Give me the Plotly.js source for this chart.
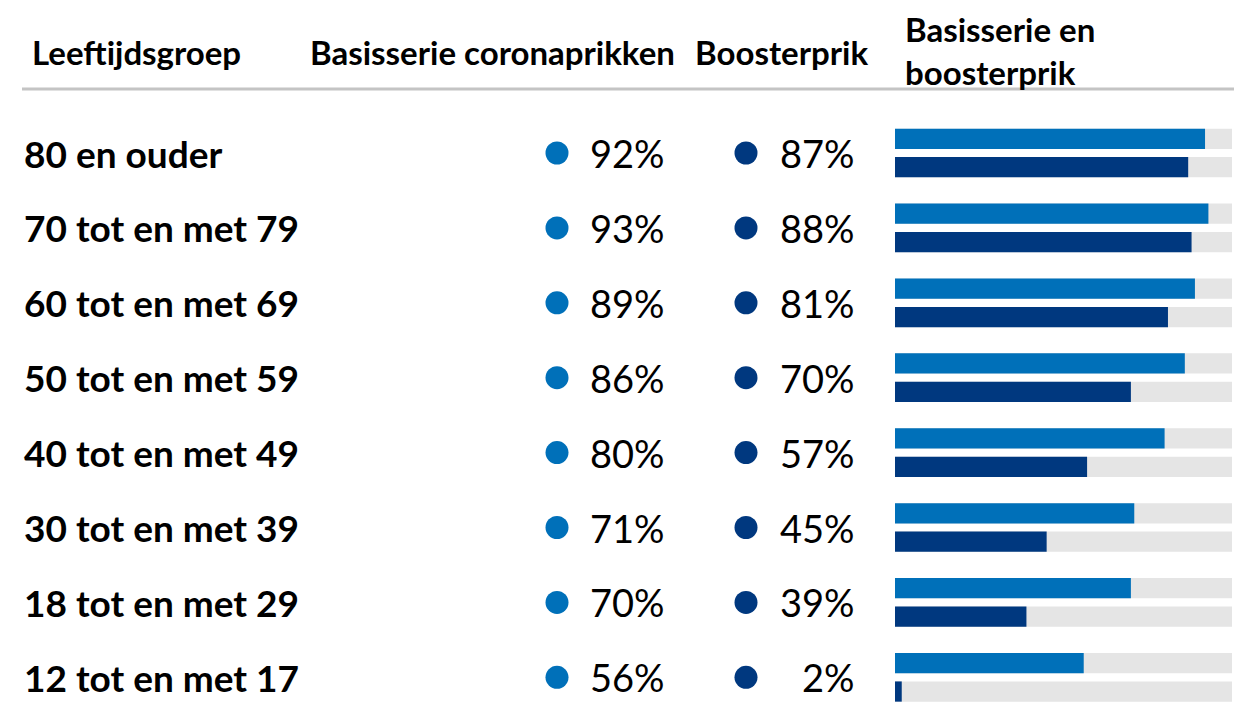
<!DOCTYPE html>
<html><head><meta charset="utf-8">
<script src="https://cdn.plot.ly/plotly-3.0.1.min.js"></script>
<style>html,body{margin:0;padding:0;background:#fff;}#chart{width:1234px;height:702px;}</style>
</head><body><div id="chart"></div>
<script>
// ---- data ----
const ageGroups = ["80 en ouder","70 tot en met 79","60 tot en met 69","50 tot en met 59","40 tot en met 49","30 tot en met 39","18 tot en met 29","12 tot en met 17"];
const basisserie = [92,93,89,86,80,71,70,56];
const booster = [87,88,81,70,57,45,39,2];
const headers = ["Leeftijdsgroep","Basisserie coronaprikken","Boosterprik","Basisserie en<br>boosterprik"];

// ---- styling / layout ----
const W = 1234, H = 702;
const BLUE = "#0070b9", DARK = "#00387f", GRAY = "#e5e5e5";
const FONT = "Lato, 'Open Sans', sans-serif";
const idx = ageGroups.map((_, i) => i);
const rowTop = 153, rowStep = 74.9;
const r0 = -rowTop / rowStep, r1 = r0 + H / rowStep;
const px = v => v / W, py = v => 1 - v / H;

const barW = 0.27, off = 0.19;
const traces = [
  {type:"bar", orientation:"h", xaxis:"x2", y:idx, x:idx.map(()=>100), offset:-off-barW/2, width:barW, marker:{color:GRAY}, hoverinfo:"skip"},
  {type:"bar", orientation:"h", xaxis:"x2", y:idx, x:idx.map(()=>100), offset:off-barW/2, width:barW, marker:{color:GRAY}, hoverinfo:"skip"},
  {type:"bar", orientation:"h", xaxis:"x2", y:idx, x:basisserie, offset:-off-barW/2, width:barW, marker:{color:BLUE}, name:"Basisserie"},
  {type:"bar", orientation:"h", xaxis:"x2", y:idx, x:booster, offset:off-barW/2, width:barW, marker:{color:DARK}, name:"Booster"},
  {type:"scatter", mode:"markers", xaxis:"x", y:idx, x:idx.map(()=>557), marker:{color:BLUE, size:23}, hoverinfo:"skip"},
  {type:"scatter", mode:"markers", xaxis:"x", y:idx, x:idx.map(()=>746), marker:{color:DARK, size:23}, hoverinfo:"skip"}
];

const ann = [];
const headerPos = [[30,52],[308,52],[693,52],[903,50]];
headers.forEach((h,i)=>ann.push({text:"<b>"+h+"</b>", xref:"paper", yref:"paper", x:px(headerPos[i][0]), y:py(headerPos[i][1]), xanchor:"left", yanchor:"middle", align:"left", showarrow:false, font:{family:FONT, size:33, color:"#000"}}));
ageGroups.forEach((g,i)=>{
  ann.push({text:"<b>"+g+"</b>", xref:"paper", yref:"y", x:px(22), y:i, xanchor:"left", yanchor:"middle", showarrow:false, font:{family:FONT, size:37, color:"#000"}});
  ann.push({text:basisserie[i]+"%", xref:"paper", yref:"y", x:px(667), y:i, xanchor:"right", yanchor:"middle", showarrow:false, font:{family:FONT, size:38, color:"#000"}});
  ann.push({text:booster[i]+"%", xref:"paper", yref:"y", x:px(857), y:i, xanchor:"right", yanchor:"middle", showarrow:false, font:{family:FONT, size:38, color:"#000"}});
});

const layout = {
  width:W, height:H, margin:{l:0,r:0,t:0,b:0}, paper_bgcolor:"#fff", plot_bgcolor:"rgba(0,0,0,0)",
  showlegend:false, barmode:"overlay",
  xaxis:{domain:[0,1], range:[0,W], visible:false, fixedrange:true},
  xaxis2:{domain:[px(895), px(1232)], range:[0,100], anchor:"y", visible:false, fixedrange:true},
  yaxis:{range:[r1, r0], visible:false, fixedrange:true},
  shapes:[{type:"line", xref:"paper", yref:"paper", x0:px(22), x1:1, y0:py(89), y1:py(89), line:{color:"#c4c4c4", width:3}}],
  annotations:ann
};
Plotly.newPlot("chart", traces, layout, {displayModeBar:false, staticPlot:true});
</script></body></html>
